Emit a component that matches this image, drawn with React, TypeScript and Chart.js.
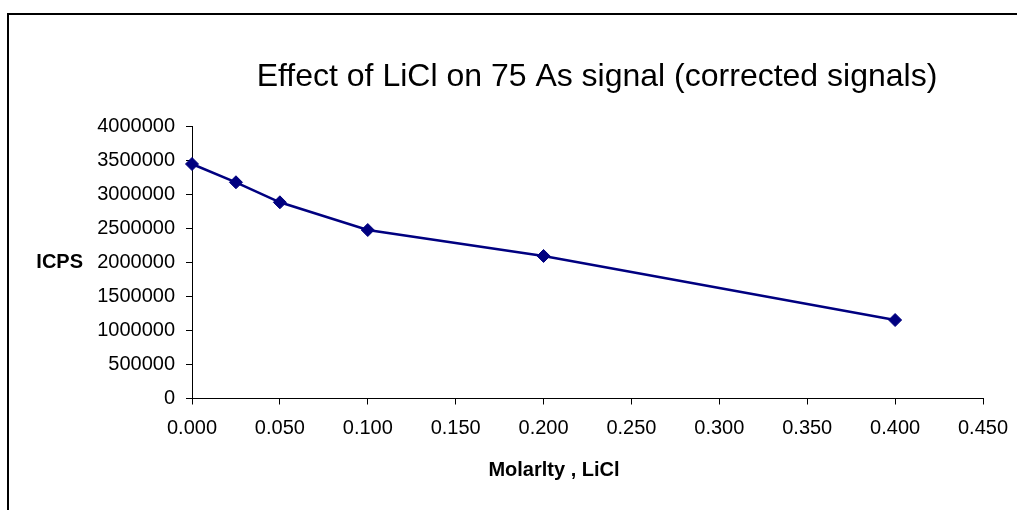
import React, { useEffect, useRef } from "react";
import { Chart, registerables } from "chart.js";

Chart.register(...registerables);

const molarity = [0, 0.025, 0.05, 0.1, 0.2, 0.4];
const icps = [3442000, 3174000, 2880000, 2473000, 2092000, 1152000];

const titleText = "Effect of LiCl on 75 As signal (corrected signals)";
const xTitle = "Molarlty , LiCl";
const yTitle = "ICPS";

const FONT = "'Liberation Sans', Arial, sans-serif";

const textPlugin = {
  id: "textPlugin",
  afterDraw(chart: any) {
    const ctx = chart.ctx;
    const ca = chart.chartArea;
    ctx.save();
    ctx.fillStyle = "#000";
    ctx.textBaseline = "middle";
    // main title
    ctx.font = `32px ${FONT}`;
    ctx.textAlign = "center";
    ctx.fillText(titleText, 597, 77);
    // x axis title
    ctx.font = `bold 20px ${FONT}`;
    ctx.textAlign = "center";
    ctx.fillText(xTitle, 554, ca.bottom + 72);
    // y axis title
    ctx.textAlign = "right";
    ctx.fillText(yTitle, 83, (ca.top + ca.bottom) / 2);
    ctx.restore();
  },
};

export default function App() {
  const ref = useRef<HTMLCanvasElement>(null);
  useEffect(() => {
    if (!ref.current) return;
    const chart = new Chart(ref.current, {
      type: "line",
      data: {
        datasets: [
          {
            data: molarity.map((x, i) => ({ x, y: icps[i] })),
            borderColor: "#000080",
            backgroundColor: "#000080",
            borderWidth: 2.5,
            pointStyle: "rectRot",
            pointRadius: 6.5,
            pointBackgroundColor: "#000080",
            pointBorderColor: "#000080",
            pointBorderWidth: 1,
            tension: 0,
            fill: false,
            clip: false,
          } as any,
        ],
      },
      options: {
        animation: false,
        responsive: false,
        devicePixelRatio: 1,
        layout: { padding: { left: 0, right: 34, top: 126, bottom: 0 } },
        plugins: {
          legend: { display: false },
          tooltip: { enabled: false },
          title: { display: false },
        },
        scales: {
          x: {
            type: "linear",
            min: 0,
            max: 0.45,
            afterFit(scale: any) {
              scale.height = 111.5;
              scale.paddingRight = 0;
              scale.paddingLeft = 0;
            },
            ticks: {
              stepSize: 0.05,
              color: "#000",
              font: { family: FONT, size: 20 },
              padding: 12,
              maxRotation: 0,
              autoSkip: false,
              callback: (v: any) => Number(v).toFixed(3),
            },
            grid: {
              drawOnChartArea: false,
              drawTicks: true,
              tickLength: 6,
              color: "#000",
            },
            border: { color: "#000", width: 1 },
          },
          y: {
            type: "linear",
            min: 0,
            max: 4000000,
            afterFit(scale: any) {
              scale.width = 192;
              scale.paddingTop = 0;
              scale.paddingBottom = 0;
            },
            ticks: {
              stepSize: 500000,
              color: "#000",
              font: { family: FONT, size: 20 },
              padding: 11,
              autoSkip: false,
              callback: (v: any) => String(v),
            },
            grid: {
              drawOnChartArea: false,
              drawTicks: true,
              tickLength: 6,
              color: "#000",
            },
            border: { color: "#000", width: 1 },
          },
        },
      },
      plugins: [textPlugin],
    });
    return () => chart.destroy();
  }, []);

  return (
    <div style={{ position: "fixed", left: 0, top: 0, width: 1017, height: 510, background: "#fff", overflow: "hidden" }}>
      <div
        style={{
          position: "absolute",
          left: 7,
          top: 13,
          width: 1040,
          height: 520,
          borderLeft: "2px solid #000",
          borderTop: "2px solid #000",
        }}
      />
      <canvas ref={ref} width={1017} height={510} style={{ position: "absolute", left: 0, top: 0, width: 1017, height: 510 }} />
    </div>
  );
}
